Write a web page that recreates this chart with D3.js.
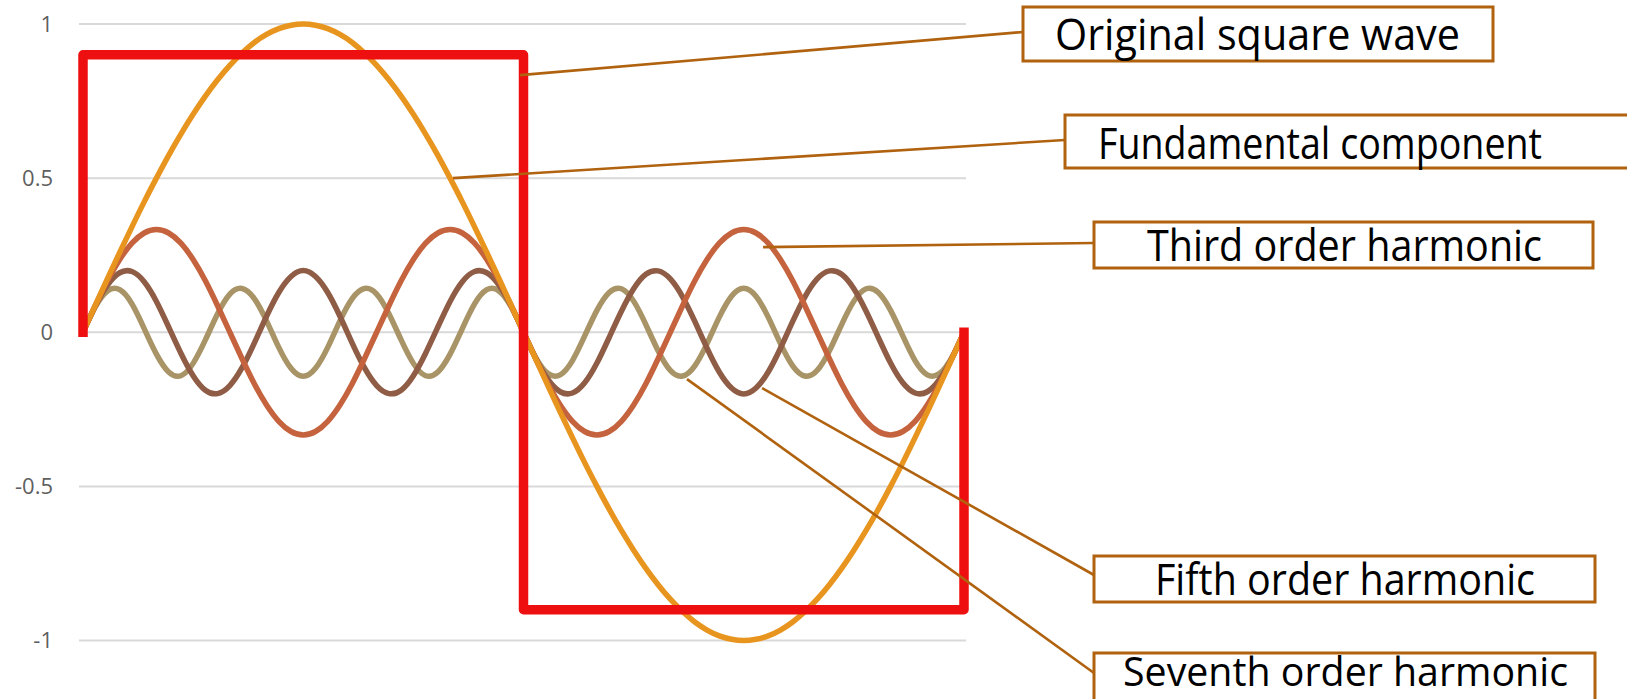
<!DOCTYPE html>
<html>
<head>
<meta charset="utf-8">
<script src="https://cdn.jsdelivr.net/npm/d3@7"></script>
<style>
  html, body { margin: 0; padding: 0; background: #ffffff; }
  svg { display: block; }
</style>
</head>
<body>
<svg id="chart" width="1627" height="699"></svg>
<script>
// Phase angle in degrees, sampled every 5 degrees over one period
const angles = d3.range(0, 361, 5);

const fundamental = [
  0, 0.087, 0.174, 0.259, 0.342, 0.423, 0.5, 0.574, 0.643, 0.707, 0.766, 0.819, 0.866, 0.906, 0.940, 0.966, 0.985, 0.996, 1,
  0.996, 0.985, 0.966, 0.940, 0.906, 0.866, 0.819, 0.766, 0.707, 0.643, 0.574, 0.5, 0.423, 0.342, 0.259, 0.174, 0.087, 0,
  -0.087, -0.174, -0.259, -0.342, -0.423, -0.5, -0.574, -0.643, -0.707, -0.766, -0.819, -0.866, -0.906, -0.940, -0.966, -0.985, -0.996, -1,
  -0.996, -0.985, -0.966, -0.940, -0.906, -0.866, -0.819, -0.766, -0.707, -0.643, -0.574, -0.5, -0.423, -0.342, -0.259, -0.174, -0.087, 0
];

const thirdHarmonic = [
  0, 0.086, 0.167, 0.236, 0.289, 0.322, 0.333, 0.322, 0.289, 0.236, 0.167, 0.086,
  0, -0.086, -0.167, -0.236, -0.289, -0.322, -0.333, -0.322, -0.289, -0.236, -0.167, -0.086,
  0, 0.086, 0.167, 0.236, 0.289, 0.322, 0.333, 0.322, 0.289, 0.236, 0.167, 0.086,
  0, -0.086, -0.167, -0.236, -0.289, -0.322, -0.333, -0.322, -0.289, -0.236, -0.167, -0.086,
  0, 0.086, 0.167, 0.236, 0.289, 0.322, 0.333, 0.322, 0.289, 0.236, 0.167, 0.086,
  0, -0.086, -0.167, -0.236, -0.289, -0.322, -0.333, -0.322, -0.289, -0.236, -0.167, -0.086,
  0
];

const fifthHarmonic = [
  0, 0.085, 0.153, 0.193, 0.197, 0.164, 0.1, 0.017, -0.068, -0.141, -0.188, -0.199, -0.173, -0.115, -0.035,
  0.052, 0.129, 0.181, 0.2, 0.181, 0.129, 0.052, -0.035, -0.115, -0.173, -0.199, -0.188, -0.141, -0.068,
  0.017, 0.1, 0.164, 0.197, 0.193, 0.153, 0.085, 0,
  -0.085, -0.153, -0.193, -0.197, -0.164, -0.1, -0.017, 0.068, 0.141, 0.188, 0.199, 0.173, 0.115, 0.035,
  -0.052, -0.129, -0.181, -0.2, -0.181, -0.129, -0.052, 0.035, 0.115, 0.173, 0.199, 0.188, 0.141, 0.068,
  -0.017, -0.1, -0.164, -0.197, -0.193, -0.153, -0.085, 0
];

const seventhHarmonic = [
  0, 0.082, 0.134, 0.138, 0.092, 0.012, -0.071, -0.129, -0.141, -0.101, -0.025,
  0.060, 0.124, 0.142, 0.109, 0.037, -0.049, -0.117, -0.143, -0.117, -0.049,
  0.037, 0.109, 0.142, 0.124, 0.060, -0.025, -0.101, -0.141, -0.129, -0.071,
  0.012, 0.092, 0.138, 0.134, 0.082, 0,
  -0.082, -0.134, -0.138, -0.092, -0.012, 0.071, 0.129, 0.141, 0.101, 0.025,
  -0.060, -0.124, -0.142, -0.109, -0.037, 0.049, 0.117, 0.143, 0.117, 0.049,
  -0.037, -0.109, -0.142, -0.124, -0.060, 0.025, 0.101, 0.141, 0.129, 0.071,
  -0.012, -0.092, -0.138, -0.134, -0.082, 0
];

// Square wave corners (angle, value)
const squareAngles = [0, 0, 180, 180, 360, 360];
const squareValues = [0, 0.9, 0.9, -0.9, -0.9, 0];

// Y axis tick values and their labels
const yTicks = [1, 0.5, 0, -0.5, -1];
const yTickLabels = ["1", "0.5", "0", "-0.5", "-1"];

// Callout labels and the point (angle, value) each leader line starts from
const calloutLabels = [
  "Original square wave",
  "Fundamental component",
  "Third order harmonic",
  "Fifth order harmonic",
  "Seventh order harmonic"
];
const calloutAngles = [178.6, 151.2, 277.9, 277.5, 246.8];
const calloutValues = [0.834, 0.5, 0.276, -0.181, -0.152];

// ---- layout ----
const svg = d3.select("#chart");
const x = d3.scaleLinear().domain([0, 360]).range([83, 964]);
const y = d3.scaleLinear().domain([-1, 1]).range([640.5, 24]);
const gridLeft = 79, gridRight = 966;

// Gridlines
svg.append("g")
  .selectAll("line")
  .data(yTicks)
  .join("line")
  .attr("x1", gridLeft).attr("x2", gridRight)
  .attr("y1", d => y(d)).attr("y2", d => y(d))
  .attr("stroke", "#d9d9d9")
  .attr("stroke-width", 2);

// Y axis labels
const yAxis = d3.axisLeft(y)
  .tickValues(yTicks)
  .tickFormat((d, i) => yTickLabels[i])
  .tickSize(0)
  .tickPadding(0);
const yAxisG = svg.append("g")
  .attr("transform", "translate(53,0)")
  .call(yAxis);
yAxisG.select(".domain").remove();
yAxisG.selectAll("text")
  .attr("font-family", "'Open Sans', 'Noto Sans', sans-serif")
  .attr("font-size", 22)
  .attr("fill", "#5f5f5f");

// Harmonic series
const series = [
  { values: seventhHarmonic, color: "#a89466" },
  { values: fifthHarmonic, color: "#8f5c45" },
  { values: thirdHarmonic, color: "#c4633d" },
  { values: fundamental, color: "#e8951f" }
];

const curveLine = d3.line()
  .x((d, i) => x(angles[i]))
  .y(d => y(d))
  .curve(d3.curveNatural);

svg.append("g")
  .selectAll("path")
  .data(series)
  .join("path")
  .attr("d", d => curveLine(d.values))
  .attr("fill", "none")
  .attr("stroke", d => d.color)
  .attr("stroke-width", 5.5)
  .attr("stroke-linecap", "round");

// Square wave
const squareLine = d3.line()
  .x((d, i) => x(squareAngles[i]))
  .y(d => y(d));

svg.append("path")
  .attr("d", squareLine(squareValues))
  .attr("fill", "none")
  .attr("stroke", "#ee1010")
  .attr("stroke-width", 9.5)
  .attr("stroke-linejoin", "round")
  .attr("stroke-linecap", "square");

// Callout boxes: [left, top, right, bottom], text start and width, baseline, font size, leader end y
const boxes = [
  { l: 1023, t: 7,   r: 1493, b: 61,  tx: 1055, tw: 405, base: 50,  fs: 43, ly: 32 },
  { l: 1065, t: 115, r: 1660, b: 168, tx: 1098, tw: 444, base: 159, fs: 43, ly: 140 },
  { l: 1094, t: 222, r: 1593, b: 268, tx: 1147, tw: 395, base: 261, fs: 43, ly: 243 },
  { l: 1094, t: 556, r: 1595, b: 602, tx: 1155, tw: 380, base: 595, fs: 43, ly: 575 },
  { l: 1094, t: 653, r: 1595, b: 730, tx: 1123, tw: 445, base: 686, fs: 41, ly: 673 }
];
const calloutColor = "#b0620f";

const callouts = svg.append("g");
calloutLabels.forEach((label, i) => {
  const bx = boxes[i];
  callouts.append("line")
    .attr("x1", x(calloutAngles[i])).attr("y1", y(calloutValues[i]))
    .attr("x2", bx.l).attr("y2", bx.ly)
    .attr("stroke", calloutColor)
    .attr("stroke-width", 2.6);
  callouts.append("rect")
    .attr("x", bx.l).attr("y", bx.t)
    .attr("width", bx.r - bx.l).attr("height", bx.b - bx.t)
    .attr("fill", "#ffffff")
    .attr("stroke", calloutColor)
    .attr("stroke-width", 3);
  callouts.append("text")
    .attr("x", bx.tx).attr("y", bx.base)
    .attr("textLength", bx.tw)
    .attr("lengthAdjust", "spacingAndGlyphs")
    .attr("font-family", "'Open Sans', 'Noto Sans', sans-serif")
    .attr("font-size", bx.fs)
    .attr("fill", "#000000")
    .text(label);
});
</script>
</body>
</html>
